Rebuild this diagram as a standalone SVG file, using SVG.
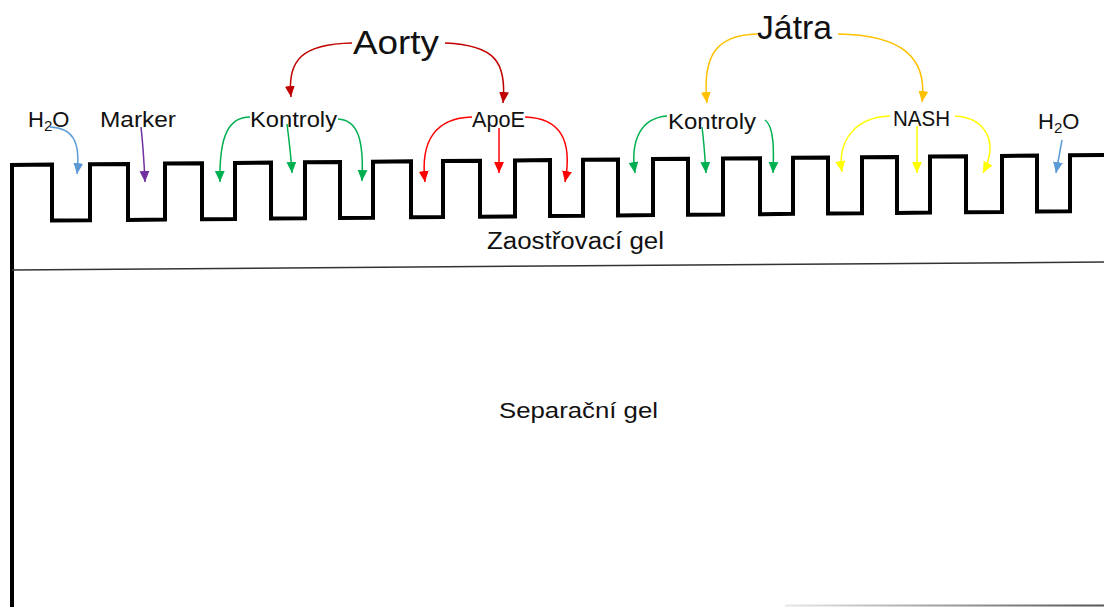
<svg xmlns="http://www.w3.org/2000/svg" width="1104" height="607" viewBox="0 0 1104 607">
  <style>
    .lbl { font-family: "Liberation Sans", Arial, sans-serif; font-size: 22px; fill: #111; }
    .big { font-family: "Liberation Sans", Arial, sans-serif; font-size: 34px; fill: #111; }
    .gel { font-family: "Liberation Sans", Arial, sans-serif; fill: #111; }
    .c { fill: none; stroke-width: 1.5; }
    .blue { stroke: #5B9BD5; }
    .purple { stroke: #7030A0; }
    .green { stroke: #00B050; }
    .dred { stroke: #C00000; }
    .red { stroke: #FF0000; }
    .orange { stroke: #FFC000; }
    .yellow { stroke: #FFFF00; }
  </style>
  <defs>
    <marker id="ah-blue" viewBox="0 0 10 10" refX="10" refY="5" markerWidth="11" markerHeight="11" markerUnits="userSpaceOnUse" orient="auto"><path d="M0,0.5 L10,5 L0,9.5 Z" fill="#5B9BD5"/></marker>
    <marker id="ah-purple" viewBox="0 0 10 10" refX="10" refY="5" markerWidth="11" markerHeight="11" markerUnits="userSpaceOnUse" orient="auto"><path d="M0,0.5 L10,5 L0,9.5 Z" fill="#7030A0"/></marker>
    <marker id="ah-green" viewBox="0 0 10 10" refX="10" refY="5" markerWidth="11" markerHeight="11" markerUnits="userSpaceOnUse" orient="auto"><path d="M0,0.5 L10,5 L0,9.5 Z" fill="#00B050"/></marker>
    <marker id="ah-dred" viewBox="0 0 10 10" refX="10" refY="5" markerWidth="11" markerHeight="11" markerUnits="userSpaceOnUse" orient="auto"><path d="M0,0.5 L10,5 L0,9.5 Z" fill="#C00000"/></marker>
    <marker id="ah-red" viewBox="0 0 10 10" refX="10" refY="5" markerWidth="11" markerHeight="11" markerUnits="userSpaceOnUse" orient="auto"><path d="M0,0.5 L10,5 L0,9.5 Z" fill="#FF0000"/></marker>
    <marker id="ah-orange" viewBox="0 0 10 10" refX="10" refY="5" markerWidth="11" markerHeight="11" markerUnits="userSpaceOnUse" orient="auto"><path d="M0,0.5 L10,5 L0,9.5 Z" fill="#FFC000"/></marker>
    <marker id="ah-yellow" viewBox="0 0 10 10" refX="10" refY="5" markerWidth="11" markerHeight="11" markerUnits="userSpaceOnUse" orient="auto"><path d="M0,0.5 L10,5 L0,9.5 Z" fill="#FFFF00"/></marker>
    <linearGradient id="fade" x1="785" y1="0" x2="1104" y2="0" gradientUnits="userSpaceOnUse">
      <stop offset="0" stop-color="#e8e8e8"/>
      <stop offset="1" stop-color="#555555"/>
    </linearGradient>
  </defs>

  <rect width="1104" height="607" fill="#ffffff"/>

  <!-- gel outline: wells of the stacking gel -->
  <g id="gel">
    <polyline fill="none" stroke="#000" stroke-width="4" stroke-linejoin="miter"
      points="12,607 12,165 52,164.6 52,220.6 90,220.3 90,164.3 128,163.9 128,219.9 165,219.6 165,163.6 202,163.3 202,219.3 235,219 235,163 271,162.6 271,218.6 305,218.3 305,162.3 340,162 340,218 373,217.7 373,161.7 411,161.3 411,217.3 443,217 443,161 480,160.7 480,216.7 515,216.4 515,160.4 550,160.1 550,216.1 583,215.8 583,159.8 618,159.4 618,215.4 653,215.1 653,159.1 688,158.8 688,214.8 723,214.5 723,158.5 760,158.2 760,214.2 793,213.8 793,157.8 828,157.5 828,213.5 862,213.2 862,157.2 897,156.9 897,212.9 930,212.6 930,156.6 966,156.3 966,212.3 1002,211.9 1002,155.9 1037,155.6 1037,211.6 1070,211.3 1070,155.3 1104,155"/>
    <!-- boundary between stacking and separating gel -->
    <line x1="12" y1="270" x2="1104" y2="262" stroke="#333" stroke-width="1.5"/>
    <!-- lower edge of the separating gel -->
    <rect x="785" y="604.5" width="319" height="2" fill="url(#fade)"/>
  </g>

  <g id="connectors">
    <path class="c blue" d="M50,127 C72,128 81,140 77,174" marker-end="url(#ah-blue)"/>
    <path class="c purple" d="M141,127 C143,145 144,160 145,182" marker-end="url(#ah-purple)"/>
    <path class="c green" d="M250,117 C229,117 219,135 220,182" marker-end="url(#ah-green)"/>
    <path class="c green" d="M287,124 C289,140 291,155 292,173" marker-end="url(#ah-green)"/>
    <path class="c green" d="M338,119 C358,120 364,140 362,181" marker-end="url(#ah-green)"/>
    <path class="c dred" d="M352,43 C302,44 287,60 291,97" marker-end="url(#ah-dred)"/>
    <path class="c dred" d="M445,43 C495,45 507,62 503,103" marker-end="url(#ah-dred)"/>
    <path class="c red" d="M472,117 C436,118 420,140 425,182" marker-end="url(#ah-red)"/>
    <path class="c red" d="M499,128 L499,173" marker-end="url(#ah-red)"/>
    <path class="c red" d="M525,117 C560,118 573,140 565,182" marker-end="url(#ah-red)"/>
    <path class="c orange" d="M757,34 C716,35 702,56 707,103" marker-end="url(#ah-orange)"/>
    <path class="c orange" d="M838,34 C900,35 928,56 922,102" marker-end="url(#ah-orange)"/>
    <path class="c green" d="M667,116 C641,118 630,140 635,173" marker-end="url(#ah-green)"/>
    <path class="c green" d="M702,127 C704,142 705,158 706,173" marker-end="url(#ah-green)"/>
    <path class="c green" d="M765,120 C774,126 774,150 773,173" marker-end="url(#ah-green)"/>
    <path class="c yellow" d="M890,116 C856,117 837,140 842,172" marker-end="url(#ah-yellow)"/>
    <path class="c yellow" d="M917,126 L917,173" marker-end="url(#ah-yellow)"/>
    <path class="c yellow" d="M955,116 C986,118 999,142 983,173" marker-end="url(#ah-yellow)"/>
    <path class="c blue" d="M1062,140 L1056,173" marker-end="url(#ah-blue)"/>
  </g>

  <g id="aorty"><text class="big" x="353" y="54" textLength="86" lengthAdjust="spacingAndGlyphs">Aorty</text></g>
  <g id="jatra"><text class="big" x="757" y="39" textLength="75" lengthAdjust="spacingAndGlyphs">Játra</text></g>
  <g id="h2o-left"><text class="lbl" x="28" y="127">H<tspan font-size="15" dy="4">2</tspan><tspan dy="-4">O</tspan></text></g>
  <g id="marker"><text class="lbl" x="100" y="127" textLength="76" lengthAdjust="spacingAndGlyphs">Marker</text></g>
  <g id="kontroly-aorty"><text class="lbl" x="250" y="127" textLength="87" lengthAdjust="spacingAndGlyphs">Kontroly</text></g>
  <g id="apoe"><text class="lbl" x="472" y="127" textLength="53" lengthAdjust="spacingAndGlyphs">ApoE</text></g>
  <g id="kontroly-jatra"><text class="lbl" x="668" y="129" textLength="88" lengthAdjust="spacingAndGlyphs">Kontroly</text></g>
  <g id="nash"><text class="lbl" x="893" y="126" textLength="57" lengthAdjust="spacingAndGlyphs">NASH</text></g>
  <g id="h2o-right"><text class="lbl" x="1038" y="129">H<tspan font-size="15" dy="4">2</tspan><tspan dy="-4">O</tspan></text></g>
  <g id="zaostrovaci"><text class="gel" font-size="23" x="487" y="249" textLength="177" lengthAdjust="spacingAndGlyphs">Zaostřovací gel</text></g>
  <g id="separacni"><text class="gel" font-size="22" x="499" y="418" textLength="159" lengthAdjust="spacingAndGlyphs">Separační gel</text></g>
</svg>
